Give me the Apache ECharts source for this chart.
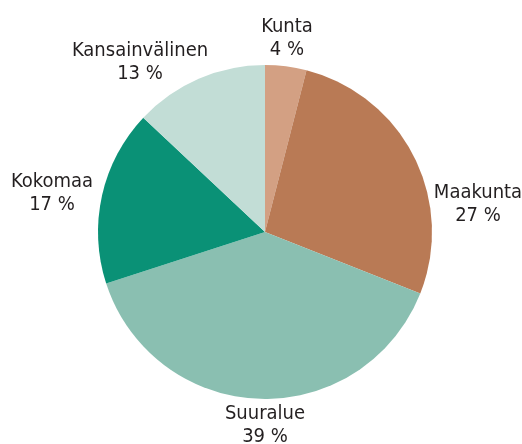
<!DOCTYPE html>
<html>
<head>
<meta charset="utf-8">
<script src="https://cdn.jsdelivr.net/npm/echarts@6/dist/echarts.min.js"></script>
<style>
  html, body { margin: 0; padding: 0; background: #fff; }
  #chart { width: 522px; height: 444px; }
</style>
</head>
<body>
<div id="chart"></div>
<script>
const categories = ['Kunta', 'Maakunta', 'Suuralue', 'Kokomaa', 'Kansainvälinen']
const shares = [4, 27, 39, 17, 13]
const colors = ['#d3a083', '#b97a55', '#8abfb1', '#0a9176', '#c2ddd6']

// label block centres, same order as categories
const labelSpots = [[287, 38], [478, 204], [265, 425], [52, 193], [140, 62]]

const chart = echarts.init(document.getElementById('chart'))

chart.setOption({
    animation: false,
    series: [
        {
            type: 'pie',
            center: [265, 232],
            radius: 167,
            startAngle: 90,
            clockwise: true,
            label: {
                show: true,
                position: 'outside',
                formatter: p => p.name + '\n' + p.value + ' %',
                fontFamily: 'DejaVu Sans Condensed',
                fontSize: 20,
                lineHeight: 23,
                color: '#231f20',
                overflow: 'none'
            },
            labelLine: { show: false },
            labelLayout: params => ({
                x: labelSpots[params.dataIndex][0],
                y: labelSpots[params.dataIndex][1],
                align: 'center',
                verticalAlign: 'middle'
            }),
            itemStyle: { borderWidth: 0 },
            data: categories.map((c, i) => ({
                name: c,
                value: shares[i],
                itemStyle: { color: colors[i] }
            }))
        }
    ]
})
</script>
</body>
</html>
